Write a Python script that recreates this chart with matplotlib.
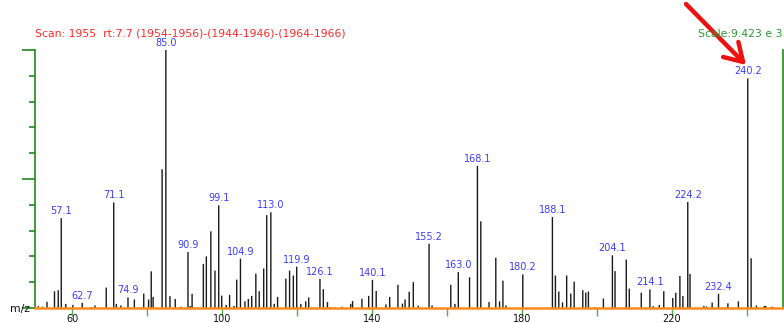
import matplotlib
matplotlib.use('Agg')
import matplotlib.pyplot as plt
from matplotlib.ticker import MultipleLocator

plt.rcParams['font.family'] = ['DejaVu Sans']

# mass spectrum, scan 1955 (m/z, relative abundance %)
mz = [51.0, 52.1, 53.3, 55.3, 56.3, 57.1, 58.3, 60.2, 62.7, 65.2, 66.1, 69.1,
      71.1, 71.8, 73.0, 74.9, 76.6, 79.1, 80.4, 81.1, 81.6, 84.0, 85.0, 86.1,
      87.5, 89.0, 90.9, 91.5, 92.0, 95.0, 95.8, 97.0, 98.1, 99.1, 99.9, 101.1,
      102.0, 103.2, 103.9, 104.9, 106.1, 107.0, 107.9, 109.0, 109.9, 111.1,
      111.9, 113.0, 113.9, 114.8, 117.0, 118.0, 119.0, 119.9, 121.0, 122.3,
      123.1, 126.1, 127.0, 128.1, 128.9, 130.1, 132.0, 134.3, 134.8, 137.3,
      139.1, 140.1, 141.1, 143.7, 144.7, 146.9, 148.1, 148.8, 149.9, 151.0,
      152.3, 155.2, 156.0, 161.0, 162.1, 163.0, 166.0, 168.1, 169.0, 171.2,
      173.0, 174.0, 174.9, 175.7, 180.2, 188.1, 188.9, 189.8, 190.8, 191.9,
      193.0, 193.9, 196.2, 197.0, 197.7, 199.5, 201.7, 204.1, 204.8, 207.8,
      208.6, 211.8, 214.1, 215.0, 216.6, 217.8, 220.2, 221.0, 222.1, 222.9,
      224.2, 224.8, 228.5, 229.2, 230.7, 232.4, 234.9, 237.7, 240.2, 241.1,
      242.5, 244.6, 245.0, 246.6, 247.1]
abundance = [0.7, 0.5, 2.4, 6.5, 6.9, 34.8, 1.6, 1.2, 2.0, 0.3, 1.0, 7.9,
             40.9, 1.6, 1.0, 4.1, 3.3, 5.6, 3.3, 14.2, 4.3, 53.8, 100.0, 4.6,
             3.5, 0.5, 21.7, 0.8, 5.5, 17.1, 20.0, 29.7, 14.5, 39.8, 4.8, 1.2,
             5.1, 0.8, 11.0, 19.1, 2.6, 3.5, 4.7, 13.3, 6.5, 15.3,
             36.0, 37.1, 1.6, 4.3, 11.4, 14.5, 12.6, 16.0, 1.6, 2.6,
             4.1, 11.3, 7.3, 2.3, 0.3, 0.2, 0.5, 1.6, 2.7, 3.6,
             4.7, 10.9, 6.6, 1.4, 4.3, 9.0, 1.7, 3.3, 6.3, 10.0,
             0.9, 24.9, 1.0, 9.0, 1.6, 13.9, 11.9, 55.1, 33.6, 2.3,
             19.5, 2.6, 10.6, 1.0, 13.0, 35.3, 12.6, 6.4, 2.2, 12.6,
             5.6, 10.2, 6.9, 6.0, 6.4, 0.3, 3.7, 20.4, 14.3, 18.8,
             7.5, 5.9, 7.2, 0.7, 1.2, 6.5, 3.9, 5.9, 12.4, 4.6,
             41.1, 13.2, 0.8, 0.6, 2.1, 5.5, 1.8, 2.6, 89.0, 19.3,
             1.0, 0.8, 0.8, 0.5, 0.3]

# peaks that get an m/z label
labeled = [57.1, 62.7, 71.1, 74.9, 85.0, 90.9, 99.1, 104.9, 113.0, 119.9,
           126.1, 140.1, 155.2, 163.0, 168.1, 180.2, 188.1, 204.1, 214.1,
           224.2, 232.4, 240.2]

x_ticks = [60, 100, 140, 180, 220]

fig = plt.figure(figsize=(7.84, 3.23), dpi=100)
ax = fig.add_axes([35 / 784, 15 / 323, 748 / 784, 258 / 323])

ax.vlines(mz, 0, abundance, color='#1a1a1a', linewidth=1.0, snap=False)

for m in labeled:
    h = abundance[mz.index(m)]
    ax.annotate(f'{m:.1f}', xy=(m, h), xytext=(0, 1.5), textcoords='offset points',
                ha='center', va='bottom', fontsize=7, color='#3c3cff',
                clip_on=False, annotation_clip=False)

ax.set_xlim(50.1, 249.6)
ax.set_ylim(0, 100)

# spines: green frame, orange baseline
for side in ['left', 'right']:
    ax.spines[side].set_color('#1f8a1f')
    ax.spines[side].set_linewidth(1.2)
ax.spines['top'].set_visible(False)
ax.spines['bottom'].set_color('#ff8a1a')
ax.spines['bottom'].set_linewidth(1.8)

ax.set_xticks(x_ticks)
ax.set_xticks([80, 120, 160, 200, 240], minor=True)
ax.set_xticklabels([str(t) for t in x_ticks])
ax.tick_params(axis='x', which='both', direction='out', length=5.5, width=1,
               color='#4cb04c', pad=-1.5, labelsize=7, labelcolor='#111111')

ax.yaxis.set_major_locator(MultipleLocator(50))
ax.yaxis.set_minor_locator(MultipleLocator(10))
ax.tick_params(axis='y', which='major', direction='out', length=9.5, width=1.2,
               color='#1f8a1f', labelleft=False)
ax.tick_params(axis='y', which='minor', direction='out', length=4.5, width=1.2,
               color='#1f8a1f')

fig.text(10 / 784, 14 / 323, 'm/z', fontsize=7.8, color='#111111', va='center')
fig.text(35 / 784, 290 / 323, 'Scan: 1955  rt:7.7 (1954-1956)-(1944-1946)-(1964-1966)',
         fontsize=7.8, color='#ff2a2a', va='center')
fig.text(698 / 784, 289 / 323, 'Scale:9.423 e 3', fontsize=7.8, color='#2e9a2e',
         va='center')

# red pointer to the molecular ion
ax.annotate('', xy=(746, 258), xycoords='figure pixels',
            xytext=(686, 319), textcoords='figure pixels',
            arrowprops=dict(arrowstyle='->, head_length=0.9, head_width=0.55',
                            color='#ee1111', lw=3.2, mutation_scale=14,
                            shrinkA=0, shrinkB=0),
            annotation_clip=False)

fig.savefig('out.png', dpi=100)
